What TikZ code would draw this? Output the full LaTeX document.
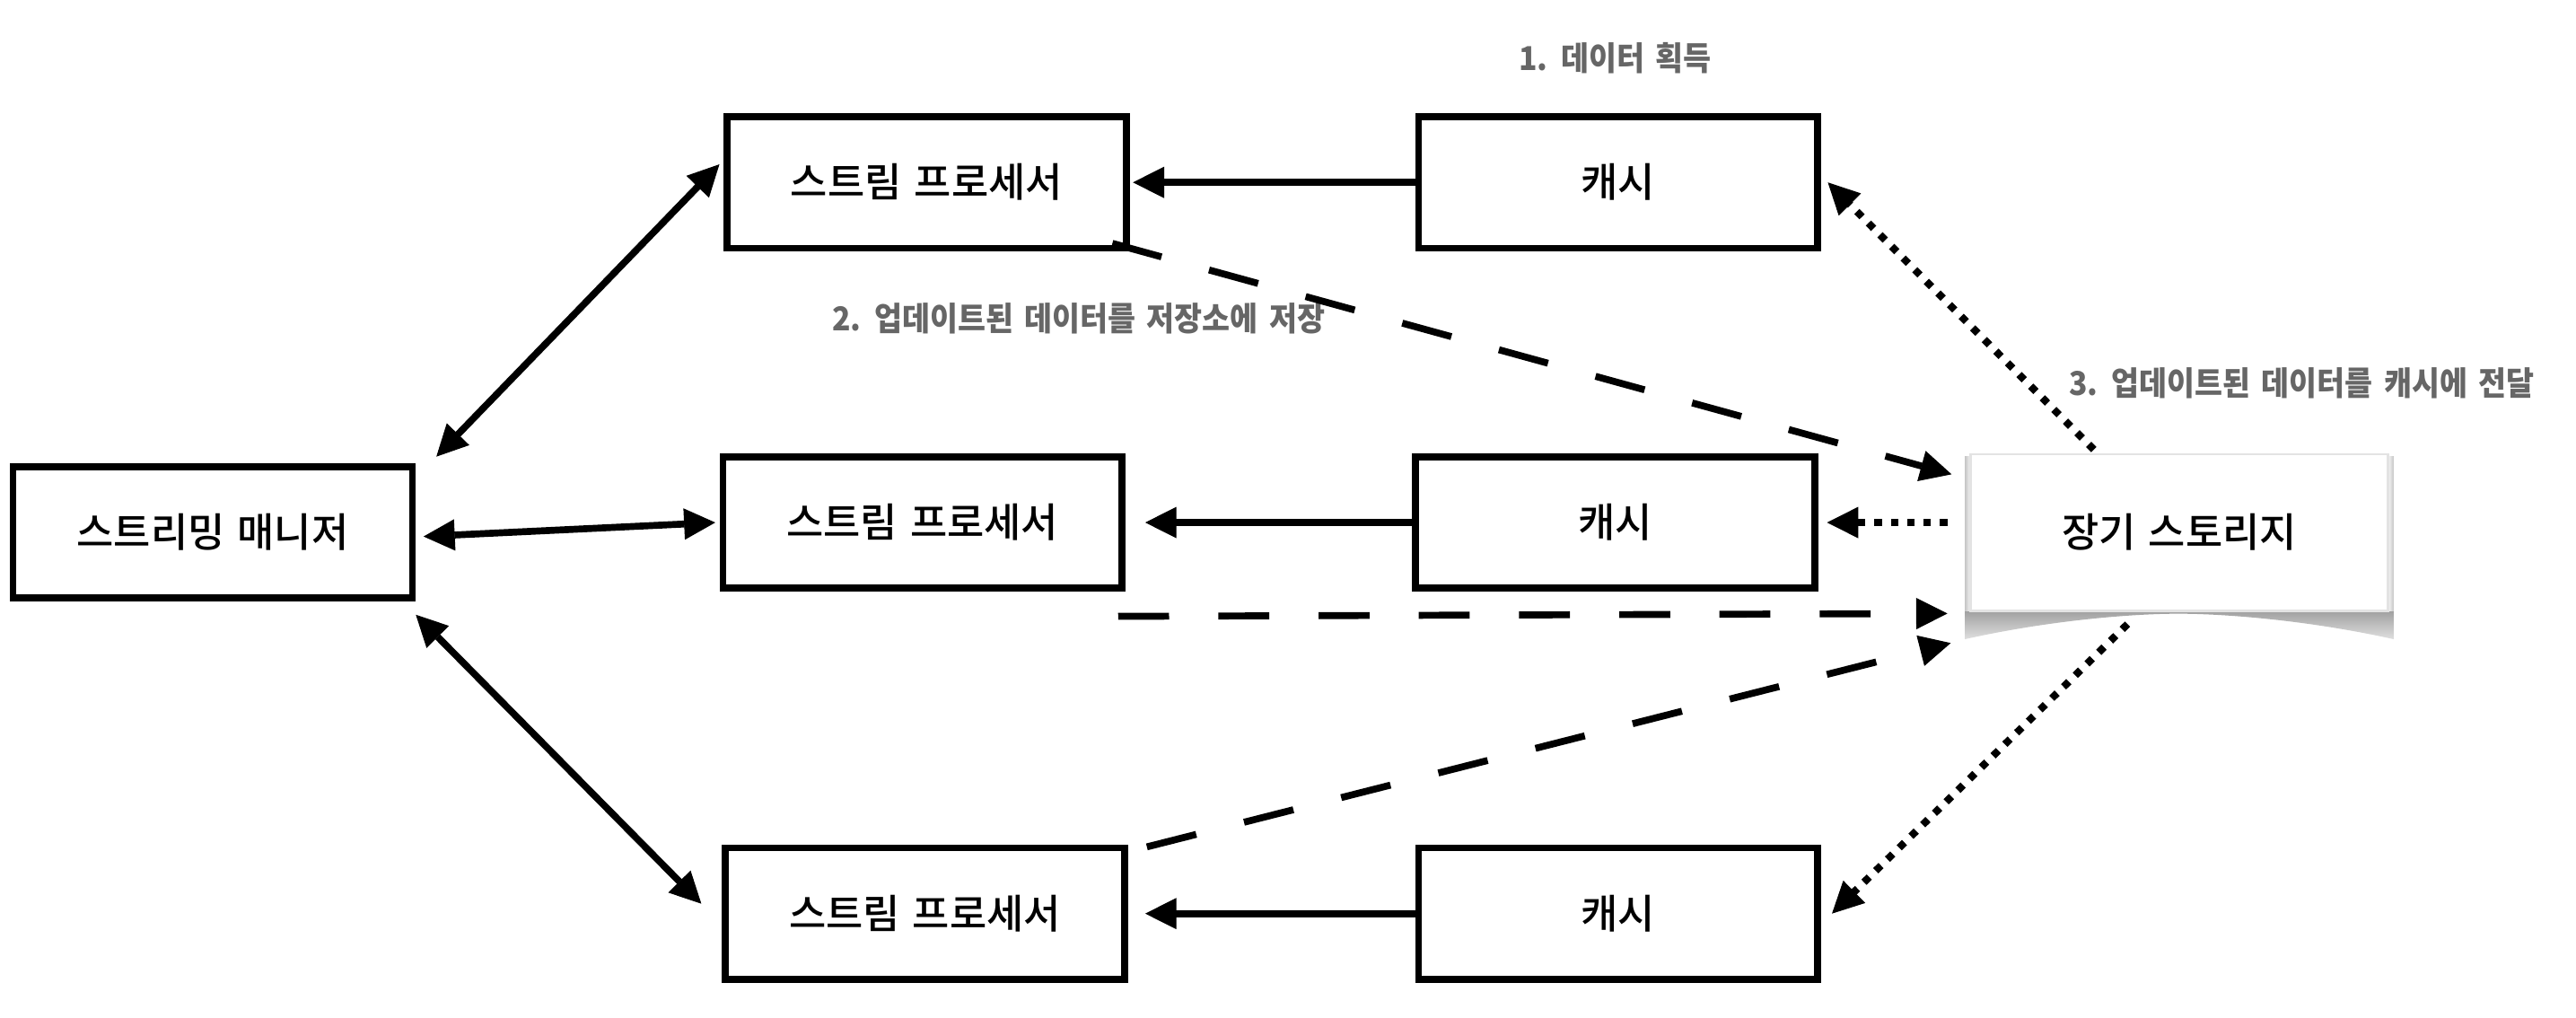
\documentclass[tikz,border=0pt]{standalone}
\usepackage{fontspec}
\usetikzlibrary{arrows.meta}
\IfFontExistsTF{Noto Sans CJK KR Medium}
  {\newfontfamily\boxfont[WordSpace=1.4]{Noto Sans CJK KR Medium}}
  {\newfontfamily\boxfont[WordSpace=1.4,FakeBold=1.2]{Noto Sans CJK KR}}
\newfontfamily\labfont[FakeStretch=0.92,WordSpace=1.6]{Noto Sans CJK KR}
\definecolor{labgray}{HTML}{666666}
\tikzset{
  box/.style={draw=black, line width=4.2pt, fill=white, minimum width=243pt, minimum height=80pt,
    inner sep=0pt, font=\boxfont\fontsize{24.5}{29}\selectfont},
  store/.style={draw=gray!22, line width=1.2pt, fill=white, minimum width=254pt, minimum height=95.5pt,
    inner sep=0pt, font=\boxfont\fontsize{24.5}{29}\selectfont},
  lab/.style={text=labgray, inner sep=0pt, font=\labfont\bfseries\fontsize{20}{24}\selectfont},
  tipA/.tip={Triangle[length=19pt,width=19pt,line width=0.6pt]},
  onearrow/.style={line width=4.2pt, -tipA},
  twoway/.style={line width=4.2pt, tipA-tipA},
  dasharrow/.style={line width=4.2pt, dash pattern=on 31pt off 30pt, -tipA},
  dotarrow/.style={line width=4.5pt, dash pattern=on 4.5pt off 5.5pt, -tipA},
}
\begin{document}
\begin{tikzpicture}[x=1pt,y=-1pt]
\useasboundingbox (0,0) rectangle (1568,619.5);

% shadow of storage
\shade[top color=gray!75, bottom color=gray!25]
  (1196,371.75) -- (1196,389) .. controls (1250,377) and (1300,373.5) .. (1326,373.5)
  .. controls (1352,373.5) and (1403,377) .. (1457,389) -- (1457,371.75) -- cycle;
\shade[left color=gray!45, right color=white] (1196,278) rectangle (1200,372);
\shade[left color=white, right color=gray!45] (1453,278) rectangle (1457,372);

\node[box] (mgr) at (129.5,324) {스트리밍 매니저};
\node[box] (sp1) at (564,111) {스트림 프로세서};
\node[box] (sp2) at (561.5,318) {스트림 프로세서};
\node[box] (sp3) at (563,556) {스트림 프로세서};
\node[box] (c1) at (985,111) {캐시};
\node[box] (c2) at (983,318) {캐시};
\node[box] (c3) at (985,556) {캐시};
\node[store] (st) at (1326.5,324) {장기 스토리지};

\node[lab] (l1) at (983,35.5) {1. 데이터 획득};
\node[lab] (l2) at (656.5,194) {2. 업데이트된 데이터를 저장소에 저장};
\node[lab] (l3) at (1401,233) {3. 업데이트된 데이터를 캐시에 전달};

% manager <-> processors
\draw[twoway] ([shift={(12.5,-4)}]mgr.north east) -- ([shift={(-2.5,-11)}]sp1.west);
\draw[twoway] ([shift={(4.7,2.5)}]mgr.east) -- ([shift={(-2.5,0)}]sp2.west);
\draw[twoway] ([shift={(0,8)}]mgr.south east) -- ([shift={(-12.5,-6)}]sp3.west);

% caches -> processors
\draw[onearrow] (c1.west) -- ([shift={(2,0)}]sp1.east);
\draw[onearrow] (c2.west) -- ([shift={(12,0)}]sp2.east);
\draw[onearrow] (c3.west) -- ([shift={(10.5,0)}]sp3.east);

% processors -> storage
\draw[dasharrow] ([shift={(-10.5,-5)}]sp1.south east) -- ([shift={(-11,13)}]st.north west);
\draw[dasharrow] ([shift={(-4.5,15)}]sp2.south east) -- ([shift={(-13.5,1)}]st.south west);
\draw[dasharrow] ([shift={(11.5,1.5)}]sp3.north east) -- ([shift={(-11.5,19)}]st.south west);

% storage -> caches
\draw[dotarrow] ([shift={(-52,-2)}]st.north) -- ([shift={(4,0)}]c1.east);
\draw[dotarrow] ([shift={(-13.5,-6)}]st.west) -- ([shift={(5.5,0)}]c2.east);
\draw[dotarrow] ([shift={(-31.5,7.5)}]st.south) -- ([shift={(6.5,0)}]c3.east);
\end{tikzpicture}
\end{document}
